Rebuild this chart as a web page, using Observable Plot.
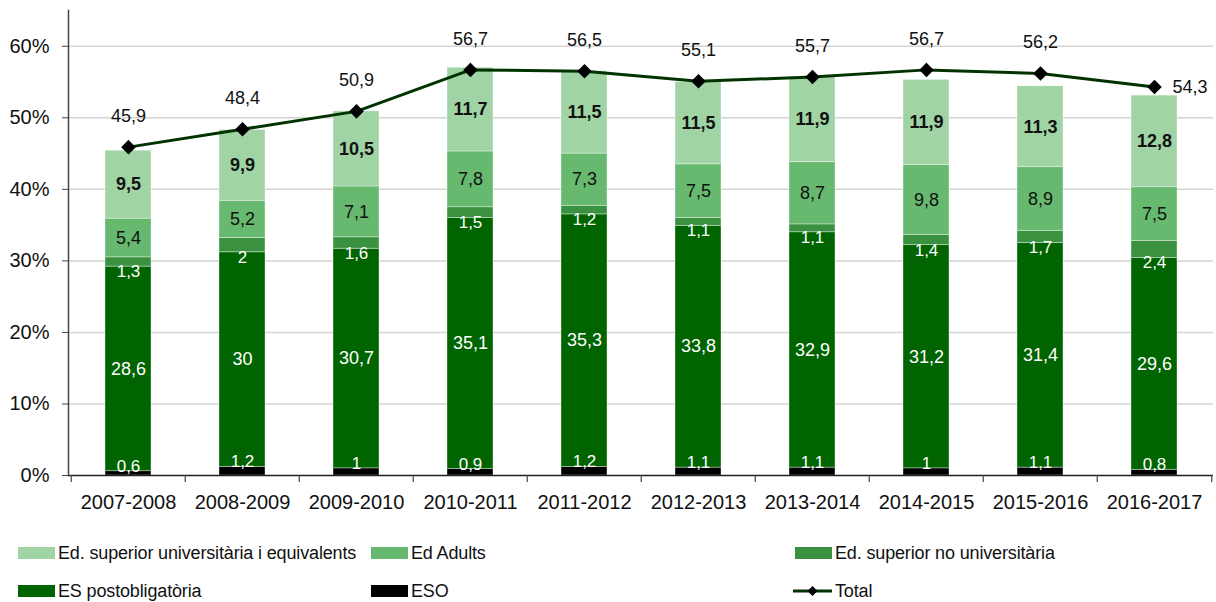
<!DOCTYPE html>
<html><head><meta charset="utf-8">
<script src="https://cdn.jsdelivr.net/npm/d3@7"></script>
<script src="https://cdn.jsdelivr.net/npm/@observablehq/plot@0.6"></script>
<style>
body{margin:0;background:#fff;font-family:"Liberation Sans",Arial,sans-serif;}
#chart{position:relative;width:1216px;height:602px;background:#fff;}
.leg{position:absolute;display:flex;align-items:center;height:22px;font-size:18px;color:#111;white-space:nowrap;letter-spacing:-0.15px;}
.sw{width:37px;height:12px;margin-right:3px;flex:none;}
</style></head><body><div id="chart"></div>
<script>
const years = ["2007-2008","2008-2009","2009-2010","2010-2011","2011-2012","2012-2013","2013-2014","2014-2015","2015-2016","2016-2017"];
const eso = [0.6, 1.2, 1, 0.9, 1.2, 1.1, 1.1, 1, 1.1, 0.8];
const esPost = [28.6, 30, 30.7, 35.1, 35.3, 33.8, 32.9, 31.2, 31.4, 29.6];
const supNoUniv = [1.3, 2, 1.6, 1.5, 1.2, 1.1, 1.1, 1.4, 1.7, 2.4];
const edAdults = [5.4, 5.2, 7.1, 7.8, 7.3, 7.5, 8.7, 9.8, 8.9, 7.5];
const supUniv = [9.5, 9.9, 10.5, 11.7, 11.5, 11.5, 11.9, 11.9, 11.3, 12.8];
const total = [45.9, 48.4, 50.9, 56.7, 56.5, 55.1, 55.7, 56.7, 56.2, 54.3];
const seriesNames = ["ESO","ES postobligatòria","Ed. superior no universitària","Ed Adults","Ed. superior universitària i equivalents"];
const seriesValues = [eso, esPost, supNoUniv, edAdults, supUniv];
const seriesColors = ["#000000","#006400","#3A9241","#66B96E","#A0D4A4"];
const yTicks = [0, 10, 20, 30, 40, 50, 60];

const fmt = v => String(v).replace(".", ",");

// long table for stacked bars
const long = [];
seriesNames.forEach((s, i) => years.forEach((yr, j) => long.push({year: yr, series: s, value: seriesValues[i][j]})));

// label positions computed from cumulative sums
const labels = [];
years.forEach((yr, j) => {
  let base = 0;
  seriesNames.forEach((s, i) => {
    const v = seriesValues[i][j];
    labels.push({year: yr, series: s, i, v, y1: base, y2: base + v, mid: base + v / 2});
    base += v;
  });
});
const totals = years.map((yr, j) => ({year: yr, total: total[j]}));

const W = 1216, H = 530, ML = 68, MR = 3, MT = 10, MB = 55;
const step = (W - ML - MR) / years.length;

const plot = Plot.plot({
  width: W, height: H,
  marginLeft: ML, marginRight: MR, marginTop: MT, marginBottom: MB,
  style: {fontFamily: "'Liberation Sans', Arial, sans-serif", fontSize: "18px", background: "white", color: "#111"},
  x: {type: "band", domain: years, paddingInner: 0.6, paddingOuter: 0.3, label: null},
  y: {domain: [0, 65], label: null},
  color: {domain: seriesNames, range: seriesColors},
  marks: [
    Plot.gridY(yTicks.filter(d => d > 0), {stroke: "#d4d4d4", strokeOpacity: 1, strokeWidth: 1.5}),
    Plot.barY(long, {x: "year", y: "value", fill: "series", order: seriesNames, stroke: "#ffffff", strokeOpacity: 0.45, strokeWidth: 0.8}),
    // ESO labels
    Plot.text(labels.filter(d => d.i === 0), {x: "year", y: "y2", text: d => fmt(d.v), fill: "white", dy: -5, fontSize: 17}),
    // ES postobligatoria
    Plot.text(labels.filter(d => d.i === 1), {x: "year", y: "mid", text: d => fmt(d.v), fill: "white", fontSize: 18}),
    // Sup no univ
    Plot.text(labels.filter(d => d.i === 2), {x: "year", y: "y1", text: d => fmt(d.v), fill: "white", dy: 5, fontSize: 17}),
    // Ed Adults
    Plot.text(labels.filter(d => d.i === 3), {x: "year", y: "mid", text: d => fmt(d.v), fill: "#111", fontSize: 18}),
    // Univ
    Plot.text(labels.filter(d => d.i === 4), {x: "year", y: "mid", text: d => fmt(d.v), fill: "#111", fontWeight: "bold", fontSize: 18}),
    Plot.ruleY([0], {stroke: "#222", strokeWidth: 1.5}),
    Plot.frame({anchor: "left", stroke: "#444", strokeWidth: 1.5}),
    // x ticks at band boundaries
    Plot.ruleX(years, {x: d => d, y1: 0, y2: 0, insetBottom: -7, dx: -step / 2, stroke: "#444", strokeWidth: 1.2}),
    Plot.ruleX(years.slice(-1), {x: d => d, y1: 0, y2: 0, insetBottom: -7, dx: step / 2, stroke: "#444", strokeWidth: 1.2}),
    Plot.axisY({ticks: yTicks, tickFormat: d => d + "%", tickSize: 6, tickPadding: 13, fontSize: 20, stroke: "#444", fill: "#111"}),
    Plot.axisX({tickSize: 0, tickPadding: 19, fontSize: 20, fill: "#111"}),
    Plot.line(totals, {x: "year", y: "total", stroke: "#003300", strokeWidth: 3}),
    Plot.dot(totals, {x: "year", y: "total", symbol: "diamond2", r: 5.6, fill: "#000", stroke: "#000"}),
    Plot.text(totals.slice(0, -1), {x: "year", y: "total", text: d => fmt(d.total), dy: -31, fill: "#111", fontSize: 18}),
    Plot.text(totals.slice(-1), {x: "year", y: "total", text: d => fmt(d.total), dx: 18, textAnchor: "start", fill: "#111", fontSize: 18})
  ]
});

const chart = document.getElementById("chart");
chart.appendChild(plot);

const legendItems = [
  {name: seriesNames[4], color: seriesColors[4], x: 18, y: 542},
  {name: seriesNames[3], color: seriesColors[3], x: 371, y: 542},
  {name: seriesNames[2], color: seriesColors[2], x: 795, y: 542},
  {name: seriesNames[1], color: seriesColors[1], x: 18, y: 580},
  {name: seriesNames[0], color: seriesColors[0], x: 371, y: 580},
  {name: "Total", line: true, x: 793, y: 580}
];
legendItems.forEach(it => {
  const d = document.createElement("div");
  d.className = "leg";
  d.style.left = it.x + "px";
  d.style.top = it.y + "px";
  if (it.line) {
    d.innerHTML = '<svg width="39" height="14" style="margin-right:3px"><line x1="0" y1="7" x2="39" y2="7" stroke="#003300" stroke-width="3"/><path d="M19.5 2 L24.5 7 L19.5 12 L14.5 7 Z" fill="#000"/></svg>';
  } else {
    const sw = document.createElement("div");
    sw.className = "sw";
    sw.style.background = it.color;
    d.appendChild(sw);
  }
  const t = document.createElement("span");
  t.textContent = it.name;
  d.appendChild(t);
  chart.appendChild(d);
});
</script>
</body></html>
